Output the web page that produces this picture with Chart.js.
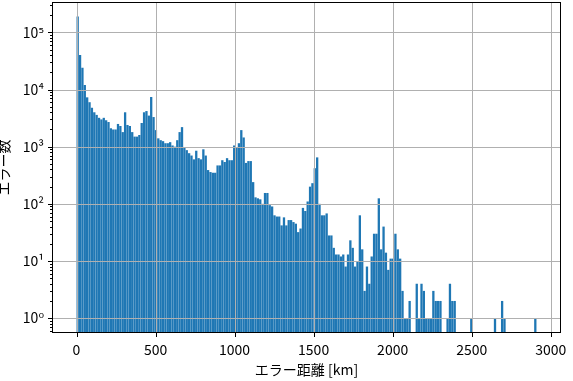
<!DOCTYPE html>
<html>
<head>
<meta charset="utf-8">
<script src="https://cdn.jsdelivr.net/npm/chart.js@4"></script>
<style>
  body { margin: 0; background: #fff; }
</style>
</head>
<body>
<canvas id="grafico" width="573" height="381"></canvas>
<script>
// 15 km bins starting at 0 km; counts (0 = empty bin)
const binWidthKm = 15;
const errorCounts = [
  190000, 40000, 24000, 12000, 7300, 6000, 4800, 4000, 3600, 3200,
  3000, 3200, 2900, 2700, 2100, 2000, 2000, 2500, 2300, 1800,
  4000, 2400, 2300, 1800, 1500, 1500, 1600, 2600, 4000, 4200,
  3500, 7400, 3300, 1950, 1400, 1300, 1250, 1150, 1150, 1200,
  1050, 1000, 1300, 1800, 2200, 950, 870, 770, 700, 600,
  850, 630, 600, 900, 700, 390, 360, 350, 350, 470,
  470, 580, 540, 630, 580, 580, 1050, 950, 1150, 1950,
  1450, 520, 560, 560, 240, 130, 125, 120, 100, 155,
  155, 95, 90, 63, 60, 60, 42, 58, 42, 52,
  52, 48, 45, 32, 37, 85, 75, 110, 200, 230,
  420, 650, 100, 63, 63, 68, 28, 28, 17, 13,
  13, 12, 13, 8, 13, 23, 17, 8, 10, 63,
  16, 3, 8, 4, 12, 30, 30, 125, 16, 40,
  14, 7, 11, 11, 30, 16, 11, 3, 1, 1,
  2, 0, 0, 4, 1, 4, 3, 1, 1, 1,
  3, 2, 2, 2, 0, 0, 1, 4, 2, 2,
  0, 0, 0, 0, 0, 0, 1, 0, 0, 0,
  0, 0, 0, 0, 0, 0, 1, 0, 0, 2,
  1, 0, 0, 0, 0, 0, 0, 0, 0, 0,
  0, 0, 0, 1
];
const xTicks = [0, 500, 1000, 1500, 2000, 2500, 3000];
const yDecades = [1, 10, 100, 1000, 10000, 100000];
const yTickLabels = ["10⁰", "10¹", "10²", "10³", "10⁴", "10⁵"];
const xTitle = "エラー距離 [km]";
const yTitle = "エラー数";

const fonte = '"Noto Sans CJK JP", "DejaVu Sans", sans-serif';

const pontos = errorCounts.map((n, i) => ({
  x: i * binWidthKm + binWidthKm / 2,
  y: n > 0 ? n : null
}));

// minor + major ticks of the log axis
const yTickValues = [];
for (let e = -1; e <= 5; e++) {
  for (let m = 1; m <= 9; m++) {
    const v = m * Math.pow(10, e);
    if (v >= 0.55 && v <= 340000) yTickValues.push(v);
  }
}

const eDecada = (v) => yDecades.some(d => Math.abs(d - v) < d * 1e-6);

// grid over the bars, tick marks, frame and axis titles
const sobreposicao = {
  id: "sobreposicao",
  afterDatasetsDraw(chart) {
    const { ctx, chartArea: a, scales } = chart;
    const x = scales.x, y = scales.y;
    ctx.save();

    ctx.strokeStyle = "#b0b0b0";
    ctx.lineWidth = 1;
    ctx.beginPath();
    xTicks.forEach(v => {
      const p = Math.round(x.getPixelForValue(v)) + 0.5;
      ctx.moveTo(p, a.top);
      ctx.lineTo(p, a.bottom);
    });
    yDecades.forEach(v => {
      const p = Math.round(y.getPixelForValue(v)) + 0.5;
      ctx.moveTo(a.left, p);
      ctx.lineTo(a.right, p);
    });
    ctx.stroke();

    ctx.strokeStyle = "#000";
    ctx.beginPath();
    xTicks.forEach(v => {
      const p = Math.round(x.getPixelForValue(v)) + 0.5;
      ctx.moveTo(p, a.bottom);
      ctx.lineTo(p, a.bottom + 4);
    });
    yTickValues.forEach(v => {
      const p = Math.round(y.getPixelForValue(v)) + 0.5;
      const len = eDecada(v) ? 4 : 2;
      ctx.moveTo(a.left, p);
      ctx.lineTo(a.left - len, p);
    });
    ctx.stroke();

    ctx.strokeRect(a.left + 0.5, a.top + 0.5, a.right - a.left - 1, a.bottom - a.top - 1);

    ctx.fillStyle = "#000";
    ctx.font = "14px " + fonte;
    ctx.textAlign = "center";
    ctx.textBaseline = "middle";
    ctx.fillText(xTitle, (a.left + a.right) / 2, 370);
    ctx.translate(4, (a.top + a.bottom) / 2);
    ctx.rotate(-Math.PI / 2);
    ctx.fillText(yTitle, 0, 0);

    ctx.restore();
  }
};

const grafico = new Chart(document.getElementById("grafico"), {
  type: "bar",
  data: {
    datasets: [{
      data: pontos,
      backgroundColor: "#1f77b4",
      borderWidth: 0,
      barPercentage: 0.97,
      categoryPercentage: 1
    }]
  },
  options: {
    responsive: false,
    animation: false,
    events: [],
    layout: { padding: { top: 2, right: 12, left: 0, bottom: 0 } },
    plugins: {
      legend: { display: false },
      tooltip: { enabled: false }
    },
    scales: {
      x: {
        type: "linear",
        min: -155,
        max: 3065,
        offset: false,
        grid: { display: true, color: "transparent", drawTicks: false, offset: false },
        border: { display: false },
        afterBuildTicks: (s) => { s.ticks = xTicks.map(v => ({ value: v })); },
        afterFit: (s) => { s.height = 48; s.paddingLeft = 0; s.paddingRight = 0; },
        ticks: {
          padding: 8,
          maxRotation: 0,
          color: "#000",
          font: { family: fonte, size: 14 },
          callback: (v) => String(v)
        }
      },
      y: {
        type: "logarithmic",
        min: 0.55,
        max: 340000,
        grid: { display: true, color: "transparent", drawTicks: false },
        border: { display: false },
        afterBuildTicks: (s) => { s.ticks = yTickValues.map(v => ({ value: v })); },
        afterFit: (s) => { s.width = 52; s.paddingTop = 0; s.paddingBottom = 0; },
        ticks: {
          padding: 8,
          autoSkip: false,
          color: "#000",
          font: { family: fonte, size: 14 },
          callback: (v) => {
            const i = yDecades.findIndex(d => Math.abs(d - v) < d * 1e-6);
            return i >= 0 ? yTickLabels[i] : "";
          }
        }
      }
    }
  },
  plugins: [sobreposicao]
});
</script>
</body>
</html>
